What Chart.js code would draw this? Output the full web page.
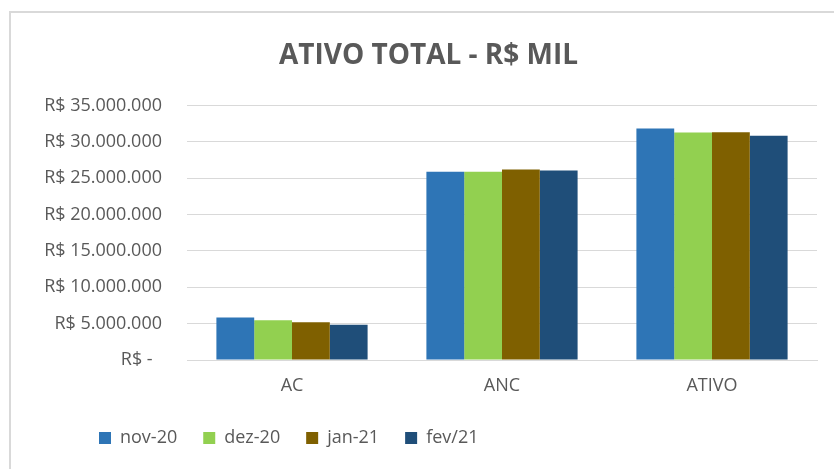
<!DOCTYPE html>
<html>
<head>
<meta charset="utf-8">
<script src="https://cdn.jsdelivr.net/npm/chart.js@4"></script>
<style>
  html, body { margin: 0; padding: 0; background: #fff; overflow: hidden; }
  #wrap { position: relative; width: 834px; height: 469px; }
  #frame { position: absolute; left: 9px; top: 11px; width: 900px; height: 600px; border: 2px solid #d9d9d9; }
  #chart { position: absolute; left: 0; top: 0; }
</style>
</head>
<body>
<div id="wrap">
  <div id="frame"></div>
  <canvas id="chart" width="834" height="469"></canvas>
</div>
<script>
// data
var categories = ['AC', 'ANC', 'ATIVO'];
var seriesNames = ['nov-20', 'dez-20', 'jan-21', 'fev/21'];
var nov20 = [5830000, 25900000, 31850000];
var dez20 = [5470000, 25900000, 31300000];
var jan21 = [5190000, 26200000, 31350000];
var fev21 = [4860000, 26070000, 30850000];
var colors = ['#2E75B6', '#92D050', '#7F6000', '#1F4E79'];

function brl(v) {
  if (v === 0) return 'R$ -  ';
  return 'R$ ' + String(v).replace(/\B(?=(\d{3})+(?!\d))/g, '.');
}

// push legend (and title a bit) to where excel had them
var boxShift = {
  id: 'boxShift',
  afterLayout: function(chart) {
    var lg = chart.legend;
    lg.left += 43;
    lg.right += 43;
    var t = chart.titleBlock;
    if (t) { t.left += 5; t.right += 5; }
  }
};

var values = [nov20, dez20, jan21, fev21];
var datasets = seriesNames.map(function(name, i) {
  return {
    label: name,
    data: values[i],
    backgroundColor: colors[i],
    borderWidth: 0,
    categoryPercentage: 0.72,
    barPercentage: 1
  };
});

var ctx = document.getElementById('chart').getContext('2d');
var chart = new Chart(ctx, {
  type: 'bar',
  data: { labels: categories, datasets: datasets },
  plugins: [boxShift],
  options: {
    responsive: false,
    animation: false,
    layout: { padding: { left: 30, right: 17, top: 20, bottom: 12 } },
    plugins: {
      title: {
        display: true,
        text: 'ATIVO TOTAL - R$ MIL',
        color: '#595959',
        font: { family: 'Open Sans', size: 28, weight: 'bold', lineHeight: 1.2 },
        padding: { top: 19, bottom: 33 }
      },
      legend: {
        position: 'bottom',
        align: 'start',
        labels: {
          color: '#595959',
          font: { family: 'Open Sans', size: 18 },
          boxWidth: 12,
          boxHeight: 12,
          padding: 26
        }
      },
      tooltip: { enabled: false }
    },
    scales: {
      x: {
        grid: { display: false, drawTicks: false },
        border: { display: true, color: '#d9d9d9' },
        ticks: { color: '#595959', font: { family: 'Open Sans', size: 18 }, padding: 15 },
        afterFit: function(scale) { scale.height = 43; }
      },
      y: {
        min: 0,
        max: 35000000,
        grid: { color: '#d9d9d9', drawTicks: false },
        border: { display: false },
        ticks: {
          stepSize: 5000000,
          color: '#595959',
          font: { family: 'Open Sans', size: 18 },
          padding: 25,
          callback: function(v) { return brl(v); }
        },
        afterFit: function(scale) { scale.width = 157; }
      }
    }
  }
});
</script>
</body>
</html>
